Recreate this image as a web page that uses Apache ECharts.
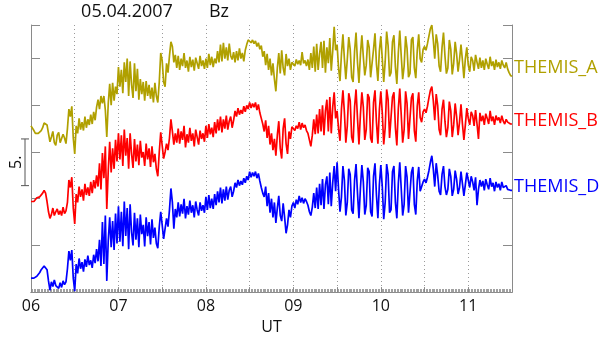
<!DOCTYPE html>
<html>
<head>
<meta charset="utf-8">
<script src="https://cdn.jsdelivr.net/npm/echarts@6/dist/echarts.min.js"></script>
<style>
html,body{margin:0;padding:0;background:#fff;}
#chart{width:604px;height:340px;}
</style>
</head>
<body>
<div id="chart"></div>
<script>
// Time axis: minutes since midnight, 1-minute samples starting 06:00
const startMinute = 360;
const stepMinute = 1;
const xMin = 360, xMax = 690;
const hourTicks = ['06','07','08','09','10','11'];
const seriesNames = ['THEMIS_A','THEMIS_B','THEMIS_D'];
const title = '05.04.2007';
const component = 'Bz';
const scaleBarLow = 11.4;
const scaleBarSize = 5;

const themisA = [
17.8,17.6,17.3,17.0,16.9,17.0,17.2,17.3,17.6,18.1,
18.2,17.9,17.0,16.1,16.6,17.2,16.0,15.7,16.8,17.1,
16.0,15.8,16.9,16.5,15.9,17.5,19.6,18.8,19.9,16.5,
14.8,17.8,17.0,18.6,17.4,18.2,17.3,18.8,17.6,18.5,
17.9,19.0,18.0,19.3,18.4,19.8,20.6,19.6,21.0,20.2,
21.0,19.5,16.6,20.2,22.3,20.0,22.4,20.5,22.0,21.2,
24.1,22.0,23.8,21.3,24.6,22.5,25.0,21.0,24.7,22.2,
20.8,24.5,21.5,23.9,20.6,22.8,21.2,22.5,20.5,22.6,
21.0,22.2,20.7,21.9,20.3,22.4,21.0,20.3,22.5,25.6,
24.8,22.5,22.0,24.5,23.5,25.3,26.8,26.3,24.6,25.4,
24.0,25.3,23.8,25.0,24.2,25.6,24.0,24.8,23.6,25.2,
24.1,24.9,23.7,25.1,24.5,23.9,25.3,24.2,24.8,23.9,
25.0,24.0,25.5,24.3,25.2,24.1,25.0,24.5,25.8,24.6,
26.5,24.7,26.7,25.0,26.2,24.8,26.6,25.3,24.9,25.7,
24.6,25.8,24.8,26.1,25.0,25.6,24.7,25.9,26.5,27.0,
27.1,26.7,27.0,26.6,26.9,26.3,26.7,26.0,26.4,25.2,
25.8,24.3,25.5,23.8,25.0,23.2,24.5,22.8,21.5,24.0,
25.6,23.4,25.9,24.0,23.2,25.5,24.2,25.0,23.8,24.6,
24.7,24.2,24.9,24.4,24.8,24.3,25.7,24.5,24.8,24.2,
24.9,23.8,25.6,24.0,26.3,23.6,26.6,23.8,25.5,26.8,
24.0,26.9,23.5,26.2,24.5,27.2,23.7,25.8,28.4,25.9,
26.5,24.0,22.6,25.5,27.6,25.0,22.8,24.9,27.3,26.0,
23.0,22.5,25.8,27.8,24.6,22.4,25.4,27.5,25.2,23.2,
24.3,27.0,26.2,23.0,22.8,26.0,27.7,24.4,22.6,25.8,
27.4,25.0,22.5,24.7,27.9,26.4,23.1,23.5,26.8,27.5,
24.1,22.3,25.6,28.0,25.3,22.8,24.2,27.4,26.1,23.0,
23.4,27.0,27.3,24.0,22.9,25.9,27.6,25.0,24.6,26.0,
26.3,25.9,26.6,27.4,28.2,28.6,27.0,25.0,27.6,26.6,
24.2,23.6,26.2,27.8,25.3,23.4,24.0,27.0,26.0,23.3,
24.5,26.8,25.5,23.6,24.9,26.5,24.8,22.9,25.0,26.2,
24.3,23.6,25.2,24.8,23.7,25.4,24.6,23.9,25.1,24.0,
24.8,23.8,25.0,24.4,23.9,25.2,24.2,24.7,23.8,24.9,
24.1,24.6,23.9,24.8,24.3,24.0,24.6,23.9,23.5,23.2,23.1
];

const themisB = [
9.7,9.8,9.7,9.9,10.1,10.0,10.2,10.4,10.6,10.9,
10.6,9.7,8.6,7.9,8.3,9.0,8.2,8.6,8.9,8.3,
8.7,8.2,9.1,8.4,8.7,9.6,12.0,11.2,12.3,9.0,
7.3,10.5,9.6,11.3,10.2,11.0,9.8,11.6,10.4,11.2,
10.3,11.8,10.6,12.0,11.1,12.5,11.3,13.8,11.0,14.9,
12.2,15.6,8.9,13.0,16.1,12.8,15.4,13.2,16.3,14.0,
17.0,14.2,16.8,13.5,17.4,14.6,16.5,13.2,17.0,14.8,
13.3,16.4,14.0,15.8,13.6,16.2,14.4,15.0,13.5,15.9,
14.2,15.4,13.4,15.6,13.9,14.8,13.2,12.4,15.0,17.1,
15.7,14.3,15.0,15.9,15.2,16.5,18.5,17.2,15.8,17.0,
16.0,17.5,15.9,17.2,16.3,17.8,15.5,16.9,16.0,17.6,
16.2,17.0,15.6,17.4,16.6,15.8,17.3,16.4,17.0,16.1,
17.8,16.5,18.0,16.9,17.6,16.6,18.2,17.0,18.5,17.3,
18.8,17.1,18.5,17.5,18.9,17.4,18.3,18.8,17.6,18.4,
19.4,18.8,19.7,19.0,19.5,19.1,19.9,19.3,20.0,19.6,
20.3,19.7,20.2,19.8,20.3,19.5,20.1,19.2,18.6,18.0,
17.2,18.4,16.5,17.8,15.8,17.0,15.2,16.4,14.6,16.8,
18.3,15.4,14.3,17.5,18.6,15.9,14.8,17.2,16.4,17.7,
17.9,17.3,17.8,17.5,18.2,17.4,18.1,17.6,17.9,17.3,
17.0,16.3,15.6,16.8,18.5,16.9,19.0,17.0,19.6,17.2,
20.0,16.8,19.4,20.6,17.2,20.9,17.0,19.8,21.4,18.6,
19.4,17.5,16.2,19.6,21.6,19.3,16.0,17.8,21.3,20.5,
16.6,16.0,19.8,21.7,18.6,15.8,19.0,21.4,19.8,16.3,
17.4,21.2,20.8,16.5,16.0,20.3,21.6,18.2,15.9,19.5,
21.5,19.2,15.8,17.6,21.7,20.6,16.5,16.7,20.9,21.4,
17.6,15.7,19.6,21.8,19.0,16.0,17.4,21.5,20.2,16.4,
16.6,20.8,21.3,17.3,16.1,19.9,21.4,18.7,18.2,19.3,
19.6,19.2,19.9,20.8,21.6,22.0,20.5,18.4,21.2,20.0,
17.4,16.8,19.6,20.6,18.3,16.6,17.6,20.4,19.4,16.6,
17.9,20.2,18.8,16.8,18.2,20.1,18.0,16.3,17.9,19.7,
18.6,17.9,19.3,18.9,17.8,19.5,18.0,16.4,19.2,18.3,
18.9,17.9,19.1,18.6,18.0,19.4,18.3,18.8,17.9,18.9,
18.4,18.7,18.1,18.9,18.3,18.0,18.5,18.2,18.1,18.0,18.0
];

const themisD = [
1.5,1.4,1.5,1.6,1.7,1.9,2.1,2.4,2.6,2.8,
2.9,2.4,1.2,0.2,1.1,0.6,1.3,0.7,0.9,0.4,
1.0,0.5,1.2,0.8,1.1,2.5,4.4,3.4,4.5,1.5,
0.1,3.0,2.0,3.6,2.5,3.2,2.2,3.5,2.7,3.9,
2.9,3.4,2.6,4.0,3.1,4.6,3.3,5.6,2.8,7.5,
3.0,8.2,1.2,5.5,8.0,4.8,7.6,4.5,8.4,5.2,
9.2,5.4,8.6,4.9,9.7,6.0,9.0,4.6,9.4,6.4,
5.0,8.5,5.6,7.9,4.8,8.3,6.2,7.2,4.9,8.0,
6.0,7.5,5.1,7.8,5.8,6.9,5.2,4.7,7.0,8.6,
7.2,5.7,6.8,7.9,7.0,8.8,11.1,9.6,6.8,8.9,
8.0,9.6,8.1,9.4,8.4,10.0,7.9,9.2,8.3,9.8,
8.5,9.3,8.0,9.7,8.8,8.2,9.6,8.7,9.3,8.5,
10.2,8.8,10.4,9.0,10.0,8.9,10.5,9.3,10.8,9.6,
11.2,9.5,11.0,9.8,11.3,9.9,10.9,11.3,10.2,10.8,
11.7,11.2,12.0,11.4,11.9,11.5,12.2,11.7,12.4,12.0,
12.9,12.3,12.8,12.4,12.9,12.2,12.7,11.9,11.2,10.6,
10.2,11.3,9.2,10.6,8.5,10.0,8.0,9.6,7.4,9.0,
10.3,8.2,7.6,9.5,8.0,6.3,7.2,8.8,8.0,9.2,
9.6,9.0,9.9,9.4,10.3,9.6,10.1,9.5,10.0,9.7,
9.3,8.6,8.2,9.1,10.6,9.0,11.2,8.9,11.6,9.3,
12.1,8.9,11.5,12.4,9.4,12.8,9.2,11.7,13.5,10.8,
13.9,11.0,8.6,10.2,13.5,12.0,8.2,9.6,13.2,12.6,
8.8,8.4,12.0,13.7,10.6,7.9,11.1,13.6,11.8,8.3,
9.3,13.3,12.9,8.6,8.1,12.4,13.8,10.4,7.9,11.5,
13.6,11.3,7.8,9.6,13.7,12.6,8.5,8.8,12.9,13.5,
9.6,7.9,11.6,13.9,11.1,8.2,9.4,13.5,12.3,8.5,
8.7,12.8,13.4,9.4,8.3,11.9,13.4,10.8,10.7,11.8,
12.1,11.7,12.3,13.0,13.9,14.6,13.2,11.3,13.8,12.5,
10.8,10.4,12.6,13.5,11.3,10.4,11.0,13.2,12.4,10.3,
11.0,13.0,12.1,10.5,11.2,12.9,11.6,10.3,11.5,12.8,
12.0,11.2,12.4,11.8,10.9,12.3,9.3,11.0,12.0,11.3,
11.9,10.9,12.1,11.5,11.0,12.2,11.3,11.7,10.8,11.8,
11.2,11.6,10.9,11.8,11.2,11.0,11.4,11.0,11.1,10.9,10.9
];

const colors = ['#b0a000', '#ff0000', '#0000ff'];
const FONT = 'Open Sans';
const AX = '#8a8a8a';

function toPairs(vals) {
  return vals.map((v, i) => [startMinute + i * stepMinute, v]);
}

const chart = echarts.init(document.getElementById('chart'));
const baseX = {
  type: 'value', min: xMin, max: xMax, interval: 30,
  axisLine: { show: true, lineStyle: { color: AX, width: 1 } },
  axisTick: { show: true, inside: true, length: 5, lineStyle: { color: AX } },
  minorTick: { show: true, splitNumber: 30, length: 3, lineStyle: { color: '#a0a0a0' } },
  splitLine: { show: false },
  minorSplitLine: { show: false }
};
const baseY = {
  type: 'value', min: 0, max: 28.6, interval: 5,
  axisLine: { show: true, lineStyle: { color: AX, width: 1 } },
  axisTick: { show: true, inside: true, length: 9, lineStyle: { color: AX } },
  axisLabel: { show: false },
  splitLine: { show: false }
};

chart.setOption({
  animation: false,
  backgroundColor: '#ffffff',
  grid: { left: 31, right: 92, top: 25, bottom: 46, containLabel: false },
  xAxis: [
    Object.assign({}, baseX, {
      position: 'bottom',
      splitLine: { show: true, lineStyle: { color: '#9a9a9a', type: [1, 3], width: 1 } },
      axisLabel: {
        show: true, margin: 6, fontSize: 16, fontFamily: FONT, color: '#111',
        showMaxLabel: false,
        formatter: function (v) { return v % 60 === 0 ? hourTicks[(v - xMin) / 60] : ''; }
      },
      name: 'UT', nameLocation: 'middle', nameGap: 25,
      nameTextStyle: { fontSize: 16, fontFamily: FONT, color: '#111' }
    }),
    Object.assign({}, baseX, {
      position: 'top',
      axisTick: { show: false },
      axisLabel: { show: false }
    })
  ],
  yAxis: [
    Object.assign({}, baseY, { position: 'left' }),
    Object.assign({}, baseY, { position: 'right' })
  ],
  series: [themisA, themisB, themisD].map((vals, k) => ({
    name: seriesNames[k],
    type: 'line',
    data: toPairs(vals),
    showSymbol: false,
    symbol: 'none',
    lineStyle: { color: colors[k], width: 1.7 },
    clip: true,
    z: 3
  }))
});

// annotations (text, scale bar) positioned from the axes
const labelY = [themisA, themisB, themisD].map(vals => vals.slice(-20).reduce((a, b) => a + b, 0) / 20);
const barTop = chart.convertToPixel({ yAxisIndex: 0 }, scaleBarLow + scaleBarSize);
const barBot = chart.convertToPixel({ yAxisIndex: 0 }, scaleBarLow);
const rightEdge = chart.convertToPixel({ xAxisIndex: 0 }, xMax);

const graphics = [
  { type: 'text', x: 127, y: 12, style: { text: title, font: '18px "Open Sans"', fill: '#111', textAlign: 'center', textVerticalAlign: 'middle' } },
  { type: 'text', x: 219, y: 12, style: { text: component, font: '18px "Open Sans"', fill: '#111', textAlign: 'center', textVerticalAlign: 'middle' } },
  { type: 'line', shape: { x1: 25, y1: barTop, x2: 25, y2: barBot }, style: { stroke: '#555', lineWidth: 1 } },
  { type: 'line', shape: { x1: 21, y1: barTop, x2: 29, y2: barTop }, style: { stroke: '#555', lineWidth: 1 } },
  { type: 'line', shape: { x1: 21, y1: barBot, x2: 29, y2: barBot }, style: { stroke: '#555', lineWidth: 1 } },
  { type: 'text', x: 16, y: (barTop + barBot) / 2, rotation: Math.PI / 2, style: { text: '5.', font: '16px "Open Sans"', fill: '#111', textAlign: 'center', textVerticalAlign: 'middle' } }
];
const labelOffsets = [2, 1, 0];
seriesNames.forEach((n, k) => {
  const py = chart.convertToPixel({ yAxisIndex: 0 }, labelY[k]);
  graphics.push({ type: 'text', x: rightEdge + 2, y: py + labelOffsets[k], style: { text: n, font: '18px "Open Sans"', fill: colors[k], textAlign: 'left', textVerticalAlign: 'middle' } });
});
chart.setOption({ graphic: graphics });
</script>
</body>
</html>
